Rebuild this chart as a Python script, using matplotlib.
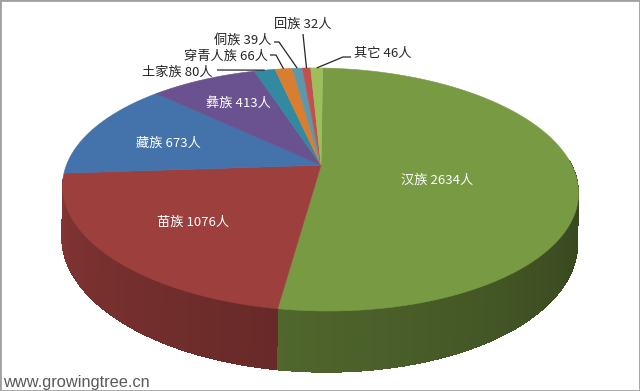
"""3-D style pie of ethnic group counts, drawn with plain polygons."""

import numpy as np
import matplotlib
matplotlib.use("Agg")
import matplotlib.pyplot as plt
from matplotlib.collections import PolyCollection
from matplotlib.colors import to_rgb
from matplotlib.patches import Rectangle

plt.rcParams['font.family'] = ['Noto Sans CJK SC', 'DejaVu Sans']

# --- data -------------------------------------------------------------------
groups = ['汉族', '苗族', '藏族', '彝族', '土家族', '穿青人族', '侗族', '回族', '其它']
counts = [2634, 1076, 673, 413, 80, 66, 39, 32, 46]
colors = ['#789A43', '#9C3F3D', '#4472AA', '#6A5190', '#3289A2',
          '#D97E2E', '#5F97AA', '#C4504D', '#9DBE5B']

# --- geometry of the projected disc (pixel space) -----------------------------
CX, CY = 321.0, 165.2          # projected centre of the disc
RX, RY = 252.8, 116.6          # radii before perspective
PERSP = 0.2                    # front is bigger than back
DEPTH = 49.0                   # thickness of the pie
ROT = np.deg2rad(1.0)          # slight tilt, right side lower


def project(theta_deg, drop=0.0, r=1.0):
    """Angle clockwise from 12 o'clock -> pixel (x, y); drop moves down the side."""
    t = np.deg2rad(theta_deg)
    X, Z = r * np.sin(t), -r * np.cos(t)
    w = 1.0 / (1.0 - PERSP * Z)
    sx, sy = RX * X * w, (RY * Z + drop) * w
    x = CX + sx * np.cos(ROT) - sy * np.sin(ROT)
    y = CY + sx * np.sin(ROT) + sy * np.cos(ROT)
    return x, y


def side_shade(theta):
    # lit from the left: left side light, right side dark
    return np.clip(0.42 + 0.0025 * (theta - 90.0), 0.35, 0.9)


vals = np.array(counts, dtype=float)
edges = np.concatenate([[0.0], np.cumsum(vals) / vals.sum() * 360.0])

fig = plt.figure(figsize=(6.4, 3.91), dpi=100)
ax = fig.add_axes([0, 0, 1, 1])
ax.set_xlim(0, 640)
ax.set_ylim(391, 0)
ax.axis('off')

# --- side wall: one underlay per slice, then shaded strips on top -------------
quads, qcols = [], []
for i, col in enumerate(colors):
    a0, a1 = edges[i], edges[i + 1]
    lo, hi = max(a0, 85.0), min(a1, 262.0)
    if hi <= lo:
        continue
    base = np.array(to_rgb(col))
    ts = np.linspace(lo, hi, max(2, int((hi - lo) / 0.4) + 1))
    tx, ty = project(ts)
    bx, by = project(ts[::-1], DEPTH)
    under = list(zip(tx, ty)) + list(zip(bx, by))
    ax.add_patch(plt.Polygon(under, closed=True,
                             fc=np.clip(base * side_shade(ts.mean()), 0, 1),
                             ec='none', zorder=1))
    for t0, t1 in zip(ts[:-1], ts[1:]):
        tm = 0.5 * (t0 + t1)
        quads.append([project(t0), project(t1),
                      project(t1, DEPTH), project(t0, DEPTH)])
        qcols.append(np.clip(base * side_shade(tm), 0, 1))
ax.add_collection(PolyCollection(quads, facecolors=qcols, edgecolors='none',
                                 linewidths=0, antialiaseds=False, zorder=2))

# --- top face ----------------------------------------------------------------
centre = project(0.0, r=0.0)
for i, col in enumerate(colors):
    ts = np.linspace(edges[i], edges[i + 1], 200)
    xs, ys = project(ts)
    poly = [centre] + list(zip(xs, ys))
    ax.add_patch(plt.Polygon(poly, closed=True, fc=col, ec=col, lw=0.4,
                             zorder=3))

# --- labels ------------------------------------------------------------------
inside = {'汉族': (437, 180), '苗族': (193, 222), '藏族': (168, 143), '彝族': (238, 103)}
for g, c in zip(groups, counts):
    if g in inside:
        ax.text(*inside[g], f'{g} {c}人', color='white', fontsize=9.5,
                ha='center', va='center', zorder=5)

# outside labels: text anchor, alignment, elbow point of leader line
outside = {
    '土家族': ((213, 72), 'right', (217, 70)),
    '穿青人族': ((268, 56), 'right', (276, 55)),
    '侗族': ((272, 40), 'right', (279, 42)),
    '回族': ((303, 24), 'center', (303, 34)),
    '其它': ((354, 53), 'left', (343, 57)),
}
starts = {
    '穿青人族': (270, 55), '侗族': (274, 42), '其它': (351, 57),
}
for i, (g, c) in enumerate(zip(groups, counts)):
    if g not in outside:
        continue
    (tx, ty), ha, elbow = outside[g]
    ax.text(tx, ty, f'{g} {c}人', color='#262626', fontsize=9.5,
            ha=ha, va='center', zorder=5)
    mid = 0.5 * (edges[i] + edges[i + 1])
    axp, ayp = project(mid)
    xs = [elbow[0], axp]
    ys = [elbow[1], ayp]
    if g in starts:
        xs = [starts[g][0]] + xs
        ys = [starts[g][1]] + ys
    ax.plot(xs, ys, color='#262626', lw=0.9, solid_capstyle='butt', zorder=4)

ax.text(3, 382, 'www.growingtree.cn', color='#595959', fontsize=11.8,
        family='Liberation Sans', ha='left', va='center')

fig.add_artist(Rectangle((0, 0), 1, 1, transform=fig.transFigure, fill=False,
                         ec='#a0a0a0', lw=2))

fig.savefig('out.png', dpi=100)
